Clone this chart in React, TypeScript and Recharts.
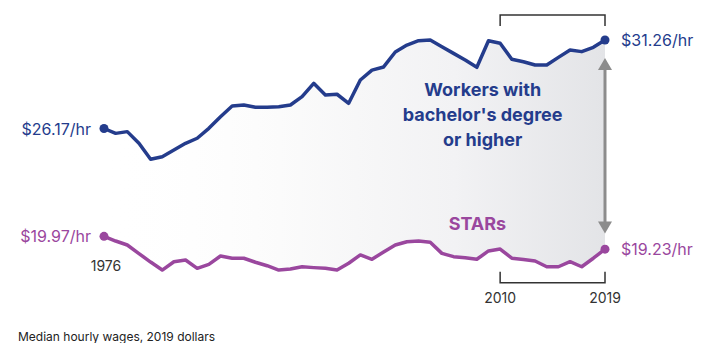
import {
  Area,
  ComposedChart,
  Line,
  ReferenceDot,
  ReferenceLine,
  XAxis,
  YAxis,
} from "recharts";

const YEARS = [
  1976, 1977, 1978, 1979, 1980, 1981, 1982, 1983, 1984, 1985, 1986,
  1987, 1988, 1989, 1990, 1991, 1992, 1993, 1994, 1995, 1996, 1997,
  1998, 1999, 2000, 2001, 2002, 2003, 2004, 2005, 2006, 2007, 2008,
  2009, 2010, 2011, 2012, 2013, 2014, 2015, 2016, 2017, 2018, 2019,
];

// median hourly wage, workers with bachelor's degree or higher
const BACHELOR = [
  26.17, 25.89, 25.99, 25.32, 24.4, 24.55, 24.93, 25.32, 25.61, 26.18, 26.85,
  27.46, 27.52, 27.39, 27.39, 27.42, 27.52, 28.0, 28.77, 28.1, 28.14, 27.62,
  28.96, 29.53, 29.71, 30.57, 30.97, 31.22, 31.26, 30.87, 30.49, 30.11, 29.69,
  31.22, 31.07, 30.15, 30.01, 29.82, 29.82, 30.26, 30.68, 30.59, 30.84, 31.26,
];

// median hourly wage, STARs
const STARS = [
  19.97, 19.7, 19.47, 18.98, 18.49, 18.03, 18.51, 18.61, 18.13, 18.36, 18.84,
  18.71, 18.71, 18.48, 18.28, 18.03, 18.09, 18.22, 18.17, 18.13, 18.03, 18.42,
  18.9, 18.65, 19.07, 19.47, 19.66, 19.7, 19.63, 18.99, 18.8, 18.74, 18.65,
  19.13, 19.24, 18.71, 18.64, 18.55, 18.22, 18.22, 18.51, 18.22, 18.71, 19.23,
];

const BLUE = "#243c8c";
const PURPLE = "#9a479e";
const INK = "#333333";
const ARROW = "#8c8c8c";
const FONT = "Inter, 'DejaVu Sans', sans-serif";

const data = YEARS.map((year, i) => ({
  year,
  bachelor: BACHELOR[i],
  stars: STARS[i],
  gap: [STARS[i], BACHELOR[i]],
}));

const LAST = YEARS.length - 1;

function endDot(color: string, showStartYear: boolean) {
  return (props: any) => {
    const { cx, cy, index, value } = props;
    if (index !== 0 && index !== LAST) return <g key={`dot-${index}`} />;
    const first = index === 0;
    return (
      <g key={`dot-${index}`}>
        <circle cx={cx} cy={cy} r={4.5} fill={color} />
        <text
          x={first ? cx - 13 : cx + 16}
          y={cy + 6}
          textAnchor={first ? "end" : "start"}
          fill={color}
          fontSize={16}
        >
          {`$${Number(value).toFixed(2)}/hr`}
        </text>
        {first && showStartYear && (
          <text x={cx + 2} y={cy + 35} textAnchor="middle" fill={INK} fontSize={14}>
            {YEARS[0]}
          </text>
        )}
      </g>
    );
  };
}

export default function App() {
  return (
    <div
      style={{
        position: "absolute",
        left: 0,
        top: 0,
        width: 707,
        height: 343,
        background: "#ffffff",
        fontFamily: FONT,
        overflow: "hidden",
      }}
    >
      <ComposedChart
        width={707}
        height={343}
        data={data}
        margin={{ top: 9.73, right: 102, bottom: 37.64, left: 104 }}
      >
        <defs>
          <linearGradient id="gapFill" x1="0" y1="0" x2="1" y2="0">
            <stop offset="0%" stopColor="#ffffff" stopOpacity={0} />
            <stop offset="35%" stopColor="#fbfbfb" stopOpacity={1} />
            <stop offset="70%" stopColor="#f2f2f4" stopOpacity={1} />
            <stop offset="100%" stopColor="#e3e4e7" stopOpacity={1} />
          </linearGradient>
        </defs>
        <XAxis type="number" dataKey="year" domain={[1976, 2019]} hide />
        <YAxis type="number" domain={[16, 33]} hide />
        <Area
          type="linear"
          dataKey="gap"
          stroke="none"
          fill="url(#gapFill)"
          fillOpacity={1}
          isAnimationActive={false}
        />
        <Line
          type="linear"
          dataKey="bachelor"
          stroke={BLUE}
          strokeWidth={3.5}
          strokeLinejoin="round"
          dot={endDot(BLUE, false)}
          activeDot={false}
          isAnimationActive={false}
        />
        <Line
          type="linear"
          dataKey="stars"
          stroke={PURPLE}
          strokeWidth={3.5}
          strokeLinejoin="round"
          dot={endDot(PURPLE, true)}
          activeDot={false}
          isAnimationActive={false}
        />
        <ReferenceLine
          segment={[
            { x: 2010, y: 32.7 },
            { x: 2019, y: 32.7 },
          ]}
          shape={(p: any) => (
            <path
              d={`M${p.x1},${p.y1 + 11}V${p.y1}H${p.x2}V${p.y1 + 11}`}
              fill="none"
              stroke={INK}
              strokeWidth={1.5}
            />
          )}
        />
        <ReferenceLine
          segment={[
            { x: 2010, y: 17.3 },
            { x: 2019, y: 17.3 },
          ]}
          shape={(p: any) => (
            <g>
              <path
                d={`M${p.x1},${p.y1 - 11}V${p.y1}H${p.x2}V${p.y1 - 11}`}
                fill="none"
                stroke={INK}
                strokeWidth={1.5}
              />
              <text x={p.x1} y={p.y1 + 20} textAnchor="middle" fill={INK} fontSize={14}>
                2010
              </text>
              <text x={p.x2} y={p.y1 + 20} textAnchor="middle" fill={INK} fontSize={14}>
                2019
              </text>
            </g>
          )}
        />
        <ReferenceLine
          segment={[
            { x: 2019, y: 30.22 },
            { x: 2019, y: 20.13 },
          ]}
          shape={(p: any) => (
            <g>
              <line
                x1={p.x1}
                y1={p.y1 + 10}
                x2={p.x2}
                y2={p.y2 - 10}
                stroke={ARROW}
                strokeWidth={3}
              />
              <polygon
                points={`${p.x1},${p.y1} ${p.x1 - 7},${p.y1 + 12} ${p.x1 + 7},${p.y1 + 12}`}
                fill={ARROW}
              />
              <polygon
                points={`${p.x2},${p.y2} ${p.x2 - 7},${p.y2 - 12} ${p.x2 + 7},${p.y2 - 12}`}
                fill={ARROW}
              />
            </g>
          )}
        />
        <ReferenceDot
          x={2008.5}
          y={28.04}
          shape={(p: any) => (
            <text textAnchor="middle" fill={BLUE} fontSize={18} fontWeight={700}>
              <tspan x={p.cx} y={p.cy}>Workers with</tspan>
              <tspan x={p.cx} y={p.cy + 25}>bachelor's degree</tspan>
              <tspan x={p.cx} y={p.cy + 50}>or higher</tspan>
            </text>
          )}
        />
        <ReferenceDot
          x={2008.05}
          y={20.36}
          shape={(p: any) => (
            <text x={p.cx} y={p.cy} textAnchor="middle" fill={PURPLE} fontSize={18} fontWeight={700}>
              STARs
            </text>
          )}
        />
      </ComposedChart>
      <div
        style={{
          position: "absolute",
          left: 18,
          top: 331,
          fontSize: 12,
          lineHeight: "12px",
          color: "#222222",
          whiteSpace: "nowrap",
        }}
      >
        Median hourly wages, 2019 dollars
      </div>
    </div>
  );
}
